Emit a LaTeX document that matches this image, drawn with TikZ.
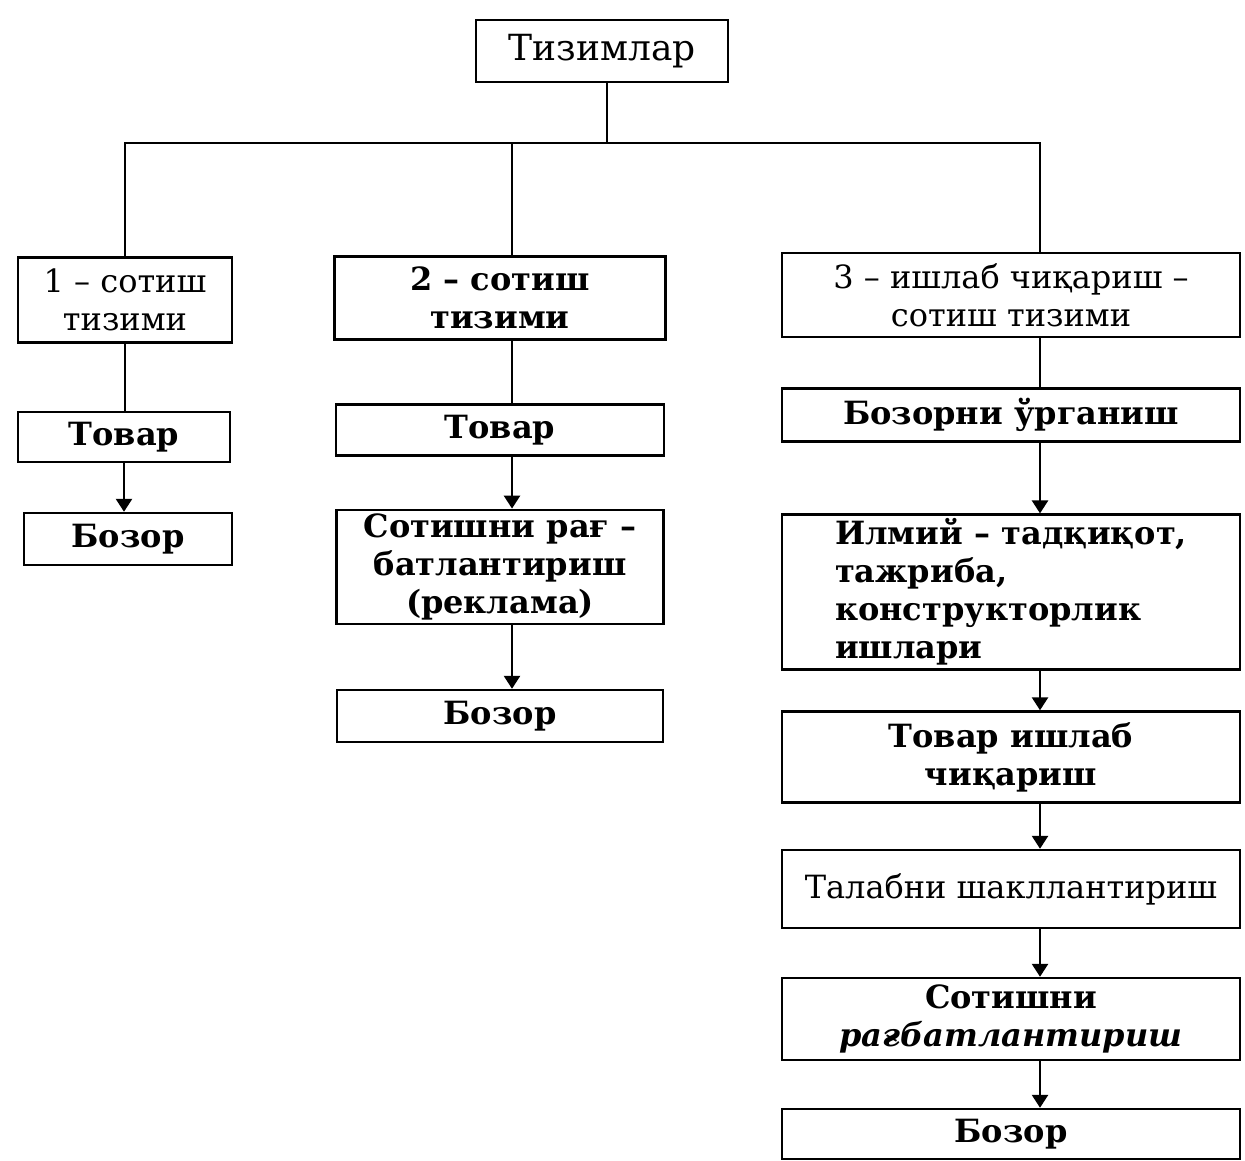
\documentclass[tikz,border=0pt]{standalone}
\usepackage{fontspec}
\setmainfont{DejaVu Serif}
\usetikzlibrary{arrows.meta}

\tikzset{
  box/.style={draw, line width=1.2pt, rectangle, inner sep=2pt, align=center, font=\fontsize{16}{19}\selectfont\bfseries},
  thinbox/.style={box, font=\fontsize{16}{19}\selectfont},
  link/.style={line width=0.7pt},
  flow/.style={line width=1.3pt, -{Triangle[width=8pt,length=6.5pt]}}
}

\begin{document}
\begin{tikzpicture}[x=0.5pt,y=-0.5pt]
	\useasboundingbox (0,0) rectangle (1245,1160);
	% top
	\node[thinbox, minimum width=126pt, minimum height=31pt, font=\fontsize{18}{21}\selectfont] (top) at (602,51) {Тизимлар};
	\coordinate (bus) at (607,143);
	% the three systems
	\node[thinbox, minimum width=107pt, minimum height=42.5pt] (sys1) at (125,300) {1 – сотиш\\тизими};
	\node[box, minimum width=165.5pt, minimum height=41.5pt] (sys2) at (500,298) {2 – сотиш\\тизими};
	\node[thinbox, minimum width=229pt, minimum height=42pt] (sys3) at (1011,295) {3 – ишлаб чиқариш –\\сотиш тизими};
	% column 1
	\node[box, minimum width=106pt, minimum height=25pt] (goods1) at (124,437) {Товар};
	\node[box, minimum width=104pt, minimum height=26pt] (market1) at (128,539) {Бозор};
	% column 2
	\node[box, minimum width=164pt, minimum height=25.5pt] (goods2) at (500,430) {Товар};
	\node[box, minimum width=163.5pt, minimum height=57pt] (promo2) at (500,567) {Сотишни рағ –\\батлантириш\\(реклама)};
	\node[box, minimum width=163pt, minimum height=26pt] (market2) at (500,716) {Бозор};
	% column 3
	\node[box, minimum width=229pt, minimum height=26.5pt] (study) at (1011,415) {Бозорни ўрганиш};
	\node[box, minimum width=229pt, minimum height=73pt, align=left] (rnd) at (1011,592) {Илмий – тадқиқот,\\тажриба,\\конструкторлик\\ишлари};
	\node[box, minimum width=229pt, minimum height=45.5pt] (prod) at (1011,757) {Товар ишлаб\\чиқариш};
	\node[thinbox, minimum width=229pt, minimum height=39pt] (demand) at (1011,889) {Талабни шакллантириш};
	\node[box, minimum width=229pt, minimum height=41pt] (promo3) at (1011,1019) {Сотишни\\\textit{рағбатлантириш}};
	\node[box, minimum width=229pt, minimum height=25pt] (market3) at (1011,1134) {Бозор};

	% tree
	\draw[link] (top.south -| bus) -- (bus);
	\draw[link] (sys1.north) |- (bus);
	\draw[link] ([xshift=14.5pt]sys3.north) |- (bus);
	\draw[line width=1.1pt] ([xshift=6pt]sys2.north) -- ([xshift=6pt]sys2.north |- bus);
	% flows
	\draw[link] (sys1) -- (sys1 |- goods1.north);
	\draw[flow] (goods1) -- (goods1 |- market1.north);
	\draw[link] ([xshift=6pt]sys2.south) -- ([xshift=6pt]goods2.north);
	\draw[flow] ([xshift=6pt]goods2.south) -- ([xshift=6pt]promo2.north);
	\draw[flow] ([xshift=6pt]promo2.south) -- ([xshift=6pt]market2.north);
	\draw[link] ([xshift=14.5pt]sys3.south) -- ([xshift=14.5pt]study.north);
	\draw[flow] ([xshift=14.5pt]study.south) -- ([xshift=14.5pt]rnd.north);
	\draw[flow] ([xshift=14.5pt]rnd.south) -- ([xshift=14.5pt]prod.north);
	\draw[flow] ([xshift=14.5pt]prod.south) -- ([xshift=14.5pt]demand.north);
	\draw[flow] ([xshift=14.5pt]demand.south) -- ([xshift=14.5pt]promo3.north);
	\draw[flow] ([xshift=14.5pt]promo3.south) -- ([xshift=14.5pt]market3.north);
\end{tikzpicture}
\end{document}
